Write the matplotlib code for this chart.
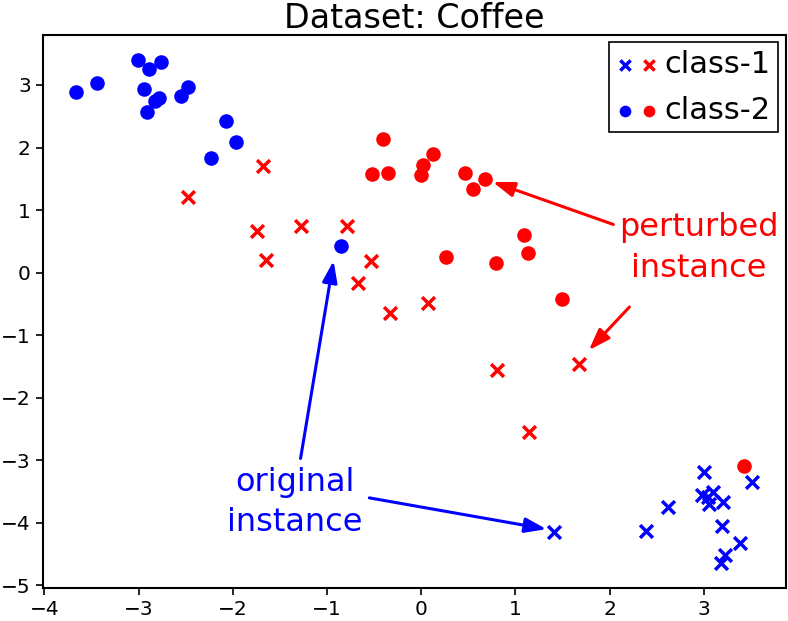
import matplotlib
matplotlib.use("Agg")
import matplotlib.pyplot as plt
from matplotlib.legend_handler import HandlerTuple

# class-1 (x markers), blue = original, red = perturbed
c1_blue_x = [1.41, 2.39, 2.62, 3.00, 3.51, 2.98, 3.10, 3.06, 3.20, 3.04, 3.19, 3.38, 3.23, 3.18]
c1_blue_y = [-4.15, -4.13, -3.75, -3.18, -3.34, -3.55, -3.50, -3.69, -3.67, -3.59, -4.05, -4.32, -4.52, -4.64]
c1_red_x = [-1.68, -2.47, -1.74, -1.28, -0.79, -1.65, -0.53, -0.67, -0.33, 0.07, 0.80, 1.67, 1.14]
c1_red_y = [1.70, 1.21, 0.66, 0.74, 0.75, 0.21, 0.18, -0.17, -0.64, -0.49, -1.56, -1.46, -2.55]

# class-2 (circles)
c2_blue_x = [-3.66, -3.44, -3.01, -2.76, -2.89, -2.94, -2.78, -2.83, -2.91, -2.48, -2.55, -2.07, -1.96, -2.23, -0.85]
c2_blue_y = [2.89, 3.03, 3.40, 3.36, 3.25, 2.94, 2.79, 2.75, 2.56, 2.97, 2.83, 2.42, 2.09, 1.84, 0.43]
c2_red_x = [-0.40, -0.52, -0.35, 0.13, 0.02, 0.00, 0.47, 0.68, 0.55, 1.09, 1.13, 0.26, 0.79, 1.49, 3.43]
c2_red_y = [2.14, 1.58, 1.60, 1.89, 1.72, 1.56, 1.60, 1.50, 1.33, 0.60, 0.32, 0.25, 0.15, -0.42, -3.09]

title = "Dataset: Coffee"
labels = ["class-1", "class-2"]

fig, ax = plt.subplots(figsize=(7.88, 6.21), dpi=100)
fig.subplots_adjust(left=0.054, right=0.997, bottom=0.053, top=0.944)

ms_x, ms_o = 85, 110
hbx = ax.scatter(c1_blue_x, c1_blue_y, marker='x', c='blue', s=ms_x, linewidths=2.5)
hrx = ax.scatter(c1_red_x, c1_red_y, marker='x', c='red', s=ms_x, linewidths=2.5)
hbo = ax.scatter(c2_blue_x, c2_blue_y, marker='o', c='blue', s=ms_o, linewidths=0)
hro = ax.scatter(c2_red_x, c2_red_y, marker='o', c='red', s=ms_o, linewidths=0)

ax.set_title(title, fontsize=24, pad=4)
ax.tick_params(labelsize=14.5, width=1.2, length=5)
for s in ax.spines.values():
    s.set_linewidth(1.5)

ap_red = dict(arrowstyle='-|>,head_length=1.3,head_width=0.45', color='red', lw=2.2,
              shrinkA=0, shrinkB=0)
ap_blue = dict(arrowstyle='-|>,head_length=1.3,head_width=0.45', color='blue', lw=2.2,
               shrinkA=0, shrinkB=0)

ax.text(2.95, 0.40, "perturbed\ninstance", color='red', fontsize=23, ha='center',
        va='center', linespacing=1.42)
ax.annotate('', xy=(0.76, 1.45), xytext=(2.04, 0.77), arrowprops=ap_red)
ax.annotate('', xy=(1.78, -1.24), xytext=(2.21, -0.55), arrowprops=ap_red)

ax.text(-1.34, -3.68, "original\ninstance", color='blue', fontsize=23, ha='center',
        va='center', linespacing=1.38)
ax.annotate('', xy=(-0.93, 0.19), xytext=(-1.28, -2.97), arrowprops=ap_blue)
ax.annotate('', xy=(1.33, -4.10), xytext=(-0.55, -3.60), arrowprops=ap_blue)

leg = ax.legend([(hbx, hrx), (hbo, hro)], labels,
                handler_map={tuple: HandlerTuple(ndivide=None, pad=0.3)},
                loc='upper right', fontsize=22, fancybox=False, framealpha=1,
                edgecolor='black', markerscale=0.8, handlelength=1.3,
                handletextpad=0.25, borderpad=0.25, labelspacing=0.55,
                borderaxespad=0.25)
leg.get_frame().set_linewidth(1.2)

fig.savefig("out.png", dpi=100)
